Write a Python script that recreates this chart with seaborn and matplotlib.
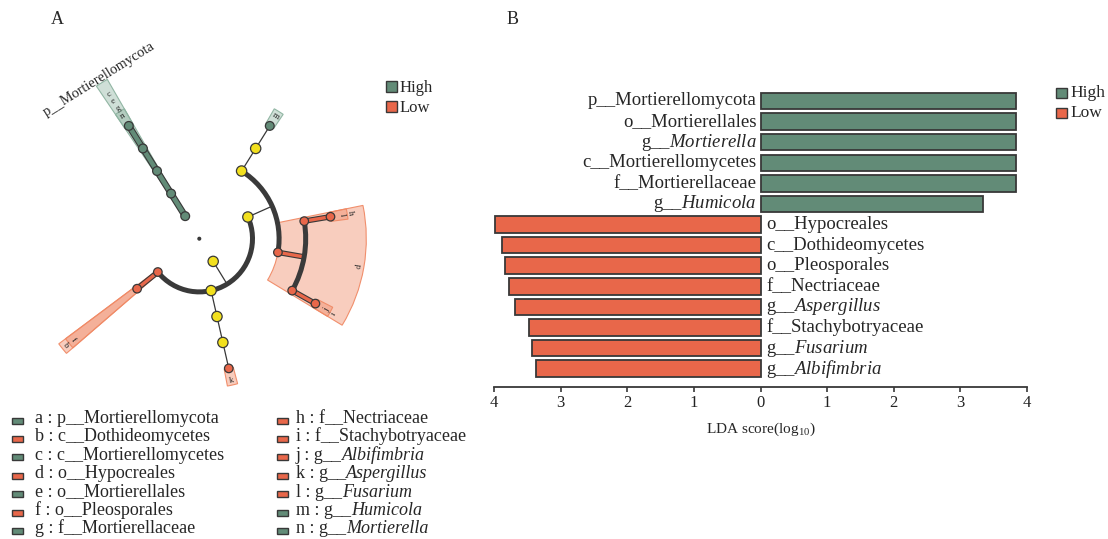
import numpy as np
import pandas as pd
import matplotlib
matplotlib.use("Agg")
import matplotlib.pyplot as plt
import matplotlib.patheffects as pe
from matplotlib.colors import to_rgba
from matplotlib.patches import Wedge, Arc, Rectangle
from matplotlib.text import Annotation
from matplotlib.transforms import offset_copy
import seaborn as sns

sns.set_style("white")
plt.rcParams["font.family"] = ["Liberation Serif", "DejaVu Serif"]
plt.rcParams["mathtext.fontset"] = "custom"
plt.rcParams["mathtext.rm"] = "Liberation Serif"
plt.rcParams["mathtext.it"] = "Liberation Serif:italic"
plt.rcParams["mathtext.bf"] = "Liberation Serif:bold"

# ---------------- LDA effect sizes (panel B) ----------------
taxa = ["p__Mortierellomycota", "o__Mortierellales", "g__Mortierella",
        "c__Mortierellomycetes", "f__Mortierellaceae", "g__Humicola",
        "o__Hypocreales", "c__Dothideomycetes", "o__Pleosporales",
        "f__Nectriaceae", "g__Aspergillus", "f__Stachybotryaceae",
        "g__Fusarium", "g__Albifimbria"]
lda_score = [3.83, 3.83, 3.83, 3.83, 3.83, 3.34,
             3.99, 3.88, 3.84, 3.77, 3.68, 3.48, 3.43, 3.37]
group = ["High"] * 6 + ["Low"] * 8

# ---------------- cladogram (panel A) ----------------
clade = ["Mortierellomycota", "Mortierellomycetes", "Mortierellales", "Mortierellaceae", "Mortierella",
         "Ascomycota", "Sordariomycetes", "Sordariales", "Chaetomiaceae", "Humicola",
         "Hypocreales", "Nectriaceae", "Fusarium", "Stachybotryaceae", "Albifimbria",
         "Eurotiomycetes", "Eurotiales", "Aspergillaceae", "Aspergillus",
         "Dothideomycetes", "Pleosporales"]
parent = ["root", "Mortierellomycota", "Mortierellomycetes", "Mortierellales", "Mortierellaceae",
          "root", "Ascomycota", "Sordariomycetes", "Sordariales", "Chaetomiaceae",
          "Sordariomycetes", "Hypocreales", "Nectriaceae", "Hypocreales", "Stachybotryaceae",
          "Ascomycota", "Eurotiomycetes", "Eurotiales", "Aspergillaceae",
          "Ascomycota", "Dothideomycetes"]
rank = [1, 2, 3, 4, 5,
        1, 2, 3, 4, 5,
        3, 4, 5, 4, 5,
        2, 3, 4, 5,
        2, 3]
clade_group = ["High"] * 5 + ["none"] * 4 + ["High"] + ["Low"] * 5 + ["none"] * 3 + ["Low"] + ["Low"] * 2
clade_letter = ["a", "c", "e", "g", "n", "", "", "", "", "m", "d", "h", "l", "i", "j",
                "", "", "", "k", "b", "f"]
# angular order of the terminal clades (degrees, counter-clockwise)
leaf_angle = {"Mortierella": 122.0, "Humicola": 58.0, "Fusarium": 9.5,
              "Albifimbria": -29.2, "Aspergillus": -77.2, "Pleosporales": -141.2}

# ---------------- biomarker key ----------------
key_letter = list("abcdefghijklmn")
key_taxon = ["p__Mortierellomycota", "c__Dothideomycetes", "c__Mortierellomycetes",
             "o__Hypocreales", "o__Mortierellales", "o__Pleosporales", "f__Mortierellaceae",
             "f__Nectriaceae", "f__Stachybotryaceae", "g__Albifimbria", "g__Aspergillus",
             "g__Fusarium", "g__Humicola", "g__Mortierella"]
key_group = ["High", "Low", "High", "Low", "High", "Low", "High",
             "Low", "Low", "Low", "Low", "Low", "High", "High"]
groups = ["High", "Low"]

GREEN = "#628B77"
RED = "#E8674A"
YELLOW = "#F2E01E"
EDGE = "#383838"
palette = {"High": GREEN, "Low": RED}
shade = {"High": "#8DB3A0", "Low": "#F08A66"}


def fmt(name):
    if name.startswith("g__"):
        return "g__$\\mathit{" + name[3:] + "}$"
    return name


W, H = 1108, 539
fig = plt.figure(figsize=(W / 100, H / 100), dpi=100)


def fx(px):
    return px / W


def fy(py):
    return 1 - py / H


def key_box(x_box, y_bottom, bw, bh, color):
    fig.add_artist(Rectangle((fx(x_box), fy(y_bottom)), bw / W, bh / H,
                             transform=fig.transFigure, facecolor=color,
                             edgecolor=EDGE, lw=1.0))


def key_text(x_text, y_base, label, size):
    """Caption in figure pixels; genus names are continued in italics."""
    if label.count("g__") and label.split("g__")[-1][:1].isupper():
        head, tail = label.rsplit("g__", 1)
        t1 = fig.text(fx(x_text), fy(y_base), head + "g__", fontsize=size,
                      ha="left", va="baseline")
        fig.add_artist(Annotation(tail, xy=(1, 0), xycoords=t1, fontsize=size,
                                  style="italic", ha="left", va="bottom"))
    else:
        fig.text(fx(x_text), fy(y_base), label, fontsize=size, ha="left", va="baseline")


# ======================= panel B: LDA bars =======================
axB = fig.add_axes([fx(494), fy(387), (1027 - 494) / W, (387 - 88) / H])
df = pd.DataFrame({
    "taxon": taxa,
    "score": [s if g == "High" else -s for s, g in zip(lda_score, group)],
    "group": group,
})
sns.barplot(data=df, x="score", y="taxon", hue="group", palette=palette,
            saturation=1, dodge=False, orient="h", width=0.8, edgecolor=EDGE,
            linewidth=1.3, legend=False, ax=axB)
axB.set_xlim(-4, 4)
axB.set_ylim(len(taxa) - 1 + 0.89, -0.63)
axB.set_yticks([])
axB.set_ylabel("")
ticks = np.arange(-4, 5)
axB.set_xticks(ticks)
axB.set_xticklabels([str(abs(t)) for t in ticks], fontsize=12)
axB.set_xlabel("LDA score(log$_{10}$)", fontsize=11, labelpad=7)
for side in ["top", "right", "left"]:
    axB.spines[side].set_visible(False)
axB.spines["bottom"].set_color(EDGE)
axB.spines["bottom"].set_linewidth(1.3)
axB.tick_params(axis="x", bottom=True, direction="out", length=3.5, width=1.2,
                color=EDGE, pad=2.5, labelcolor="#222222")

left_off = offset_copy(axB.transData, fig=fig, x=-4, y=0, units="dots")
right_off = offset_copy(axB.transData, fig=fig, x=6, y=0, units="dots")
for i, (t, g) in enumerate(zip(taxa, group)):
    if g == "High":
        axB.text(0, i, fmt(t), transform=left_off, ha="right", va="center", fontsize=13.5)
    else:
        axB.text(0, i, fmt(t), transform=right_off, ha="left", va="center", fontsize=13.5)

for j, g in enumerate(groups):
    key_box(1056, 98 + 20 * j, 11, 10, palette[g])
    key_text(1070.5, 97 + 20 * j, g, 12.5)

# ======================= panel A: cladogram =======================
axA = fig.add_axes([0, fy(395), 440 / W, 370 / H])
STEP = 26.6

rank_of = dict(zip(clade, rank))
grp = dict(zip(clade, clade_group))
letter = dict(zip(clade, clade_letter))
par = dict(zip(clade, parent))
children = {n: [] for n in clade + ["root"]}
for c, p in zip(clade, parent):
    children[p].append(c)

angle = {}


def place(n):
    if not children[n]:
        angle[n] = leaf_angle[n]
    else:
        a = [place(c) for c in children[n]]
        angle[n] = (min(a) + max(a)) / 2
    return angle[n]


place("root")


def xy(r, th):
    t = np.deg2rad(th)
    return r * np.cos(t), r * np.sin(t)


def leaves_under(n):
    if not children[n]:
        return [n]
    out = []
    for c in children[n]:
        out += leaves_under(c)
    return out


def outer(rk):
    return 150 + (5 - rk) * 8.5


def tangential(th):
    rot = th - 90
    while rot <= -90:
        rot += 180
    while rot > 90:
        rot -= 180
    return rot


# highlighted sectors behind the biomarker clades
for n in clade:
    g = grp[n]
    if g == "none":
        continue
    if par[n] != "root" and grp[par[n]] == g and children[n]:
        continue
    la = [angle[l] for l in leaves_under(n)]
    r0 = STEP * rank_of[n]
    r1 = outer(rank_of[n])
    axA.add_patch(Wedge((0, 0), r1, min(la) - 2.0, max(la) + 2.0, width=r1 - r0,
                        facecolor=to_rgba(shade[g], 0.42),
                        edgecolor=to_rgba(shade[g], 0.95), lw=0.8, zorder=1))

# branches
for p in clade:
    kids = children[p]
    if not kids:
        continue
    rp = STEP * rank_of[p]
    rc = STEP * (rank_of[p] + 1)
    th = angle[p]
    x0, y0 = xy(rp, th)
    x1, y1 = xy(rc, th)
    same = grp[p] != "none" and all(grp[k] == grp[p] for k in kids)
    if same:
        lw = 3.2 if grp[p] == "High" else 2.4
        axA.plot([x0, x1], [y0, y1], color=palette[grp[p]], lw=lw, solid_capstyle="butt",
                 path_effects=[pe.Stroke(linewidth=lw + 1.6, foreground=EDGE), pe.Normal()],
                 zorder=3)
    else:
        axA.plot([x0, x1], [y0, y1], color=EDGE, lw=0.9, zorder=2)
    if len(kids) > 1:
        ka = [angle[k] for k in kids]
        axA.add_patch(Arc((0, 0), 2 * rc, 2 * rc, theta1=min(ka), theta2=max(ka),
                          lw=3.6, color="#3A3A3A", zorder=3))

# nodes
nx, ny, ncls = [0.0], [0.0], ["root"]
for n in clade:
    x, y = xy(STEP * rank_of[n], angle[n])
    nx.append(x)
    ny.append(y)
    ncls.append(grp[n])
node_df = pd.DataFrame({"x": nx, "y": ny, "cls": ncls})
sns.scatterplot(data=node_df, x="x", y="y", hue="cls", size="cls",
                palette={"High": GREEN, "Low": RED, "none": YELLOW, "root": EDGE},
                sizes={"High": 40, "Low": 38, "none": 55, "root": 4},
                edgecolor=EDGE, linewidth=0.9, legend=False, ax=axA, zorder=5)

# clade letters
for n in clade:
    if not letter[n] or grp[n] == "none":
        continue
    th = angle[n]
    if letter[n] == "a":
        x, y = xy(outer(rank_of[n]) - 2, th)
        axA.text(x, y, "p__Mortierellomycota", rotation=tangential(th), rotation_mode="anchor",
                 ha="center", va="bottom", fontsize=10.4, zorder=6)
    else:
        x, y = xy(outer(rank_of[n]) - 5, th)
        axA.text(x, y, letter[n], rotation=tangential(th), rotation_mode="anchor",
                 ha="center", va="center", fontsize=6.5, zorder=6)

axA.set_xlim(-199.3, 240.7)
axA.set_ylim(-156.3, 213.7)
axA.set_aspect("equal")
axA.axis("off")

for j, g in enumerate(groups):
    key_box(385.5, 92 + 20 * j, 11, 11, palette[g])
    key_text(400, 92 + 20 * j, g, 12)

# biomarker key below the cladogram (two columns of seven)
for i, (k, t, g) in enumerate(zip(key_letter, key_taxon, key_group)):
    col, row = divmod(i, 7)
    yb = 423 + 18.4 * row
    key_box(12 if col == 0 else 277, yb + 0.5, 11, 6, palette[g])
    key_text(35 if col == 0 else 296, yb, f"{k} : {t}", 13)

fig.text(fx(57.5), fy(19), "A", fontsize=13, ha="center", va="center")
fig.text(fx(513), fy(19), "B", fontsize=13, ha="center", va="center")

fig.savefig("out.png", dpi=100)
